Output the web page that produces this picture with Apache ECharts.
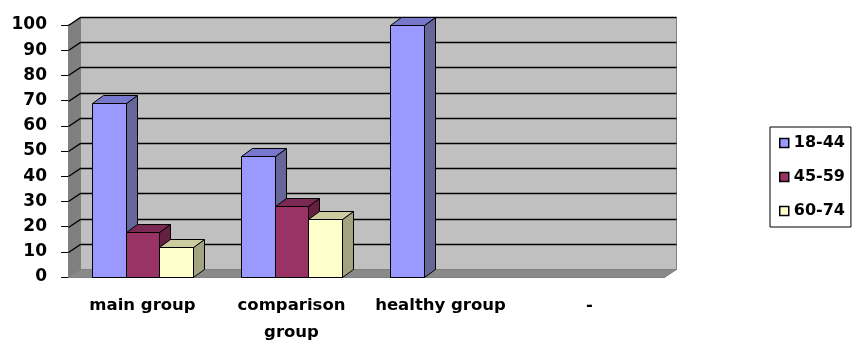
<!DOCTYPE html>
<html>
<head>
<meta charset="utf-8">
<script src="https://cdn.jsdelivr.net/npm/echarts@6/dist/echarts.min.js"></script>
<style>
  html, body { margin: 0; padding: 0; background: #fff; }
  #chart { width: 865px; height: 353px; }
</style>
</head>
<body>
<div id="chart"></div>
<script>
// data
var categories = ['main group', 'comparison\ngroup', 'healthy group', '-'];
var ageGroups = ['18-44', '45-59', '60-74'];
var values1844 = [69, 48, 100, null];
var values4559 = [18, 28, null, null];
var values6074 = [12, 23, null, null];

// colours for front / top / side of each 3d bar
var faceColors = [
  { front: '#9999FF', top: '#7777CC', side: '#666699' },
  { front: '#993366', top: '#7A2952', side: '#66203F' },
  { front: '#FFFFCC', top: '#CCCCA0', side: '#A3A382' }
];
var DX = 12, DY = 8; // depth of the box
var FONT = 'DejaVu Sans';

var chart = echarts.init(document.getElementById('chart'));

function pts(list) {
  return list.map(function (p) { return [Math.round(p[0]) + 0.5, Math.round(p[1]) + 0.5]; });
}

// back wall, side wall, floor and grid lines
function wallRender(params, api) {
  var cs = params.coordSys;
  var x0 = cs.x, x1 = cs.x + cs.width, y0 = cs.y, y1 = cs.y + cs.height;
  var kids = [
    { type: 'polygon', shape: { points: pts([[x0 + DX, y0 - DY], [x1 + DX, y0 - DY], [x1 + DX, y1 - DY], [x0 + DX, y1 - DY]]) },
      style: { fill: '#C0C0C0', stroke: '#808080', lineWidth: 1 } },
    { type: 'polygon', shape: { points: pts([[x0, y1], [x0, y0], [x0 + DX, y0 - DY], [x0 + DX, y1 - DY]]) },
      style: { fill: '#808080', stroke: '#808080', lineWidth: 1 } },
    { type: 'polygon', shape: { points: pts([[x0, y1], [x0 + DX, y1 - DY], [x1 + DX, y1 - DY], [x1, y1]]) },
      style: { fill: '#8A8A8A', stroke: '#808080', lineWidth: 1 } }
  ];
  for (var v = 10; v <= 100; v += 10) {
    var y = api.coord([0, v])[1];
    kids.push({ type: 'polyline', shape: { points: pts([[x0, y], [x0 + DX, y - DY], [x1 + DX, y - DY]]) },
      style: { fill: null, stroke: '#000', lineWidth: 1.3 } });
  }
  return { type: 'group', children: kids };
}

function barRender(idx) {
  var col = faceColors[idx];
  return function (params, api) {
    var v = api.value(1);
    if (v == null || isNaN(v)) return null;
    var c = api.coord([api.value(0), v]);
    var b = api.coord([api.value(0), 0]);
    var w = api.size([1, 0])[0] * 0.224;
    var x = c[0] - 1.5 * w + idx * w;
    var t = c[1], bt = b[1];
    var dx = 11, dy = 8;
    var st = { stroke: '#000', lineWidth: 1 };
    return {
      type: 'group',
      children: [
        { type: 'polygon', shape: { points: pts([[x + w, bt], [x + w, t], [x + w + dx, t - dy], [x + w + dx, bt - dy]]) },
          style: Object.assign({ fill: col.side }, st) },
        { type: 'polygon', shape: { points: pts([[x, t], [x + dx, t - dy], [x + w + dx, t - dy], [x + w, t]]) },
          style: Object.assign({ fill: col.top }, st) },
        { type: 'polygon', shape: { points: pts([[x, bt], [x, t], [x + w, t], [x + w, bt]]) },
          style: Object.assign({ fill: col.front }, st) }
      ]
    };
  };
}

function toData(arr) {
  return arr.map(function (v, i) { return [i, v == null ? '-' : v]; });
}

var seriesValues = [values1844, values4559, values6074];
var series = [{
  name: 'walls',
  type: 'custom',
  renderItem: wallRender,
  data: [[0, 0]],
  z: 1,
  silent: true,
  legendHoverLink: false
}];
ageGroups.forEach(function (name, i) {
  series.push({
    name: name,
    type: 'custom',
    renderItem: barRender(i),
    encode: { x: 0, y: 1 },
    data: toData(seriesValues[i]),
    itemStyle: { color: faceColors[i].front },
    z: 2 + i
  });
});

chart.setOption({
  animation: false,
  backgroundColor: '#fff',
  grid: { left: 68, right: 201, top: 25, bottom: 76 },
  legend: {
    data: ageGroups,
    orient: 'vertical',
    left: 770,
    top: 127,
    padding: [6, 6, 6, 9],
    itemGap: 14,
    itemWidth: 9,
    itemHeight: 9,
    icon: 'rect',
    borderColor: '#000',
    borderWidth: 1,
    itemStyle: { borderColor: '#000', borderWidth: 1.5 },
    textStyle: { fontFamily: FONT, fontWeight: 'bold', fontSize: 16, lineHeight: 20, color: '#000' }
  },
  xAxis: {
    type: 'category',
    data: categories,
    boundaryGap: true,
    axisLine: { lineStyle: { color: '#000', width: 1 } },
    axisTick: { length: 7, lineStyle: { color: '#000' } },
    axisLabel: { interval: 0, margin: 15, color: '#000', fontFamily: FONT, fontWeight: 'bold', fontSize: 16.5, lineHeight: 27 },
    splitLine: { show: false }
  },
  yAxis: {
    type: 'value',
    min: 0,
    max: 100,
    interval: 10,
    axisLine: { show: true, lineStyle: { color: '#000', width: 1 } },
    axisTick: { show: true, length: 7, lineStyle: { color: '#000' } },
    axisLabel: { margin: 21, color: '#000', fontFamily: FONT, fontWeight: 'bold', fontSize: 17 },
    splitLine: { show: false }
  },
  series: series
});
</script>
</body>
</html>
